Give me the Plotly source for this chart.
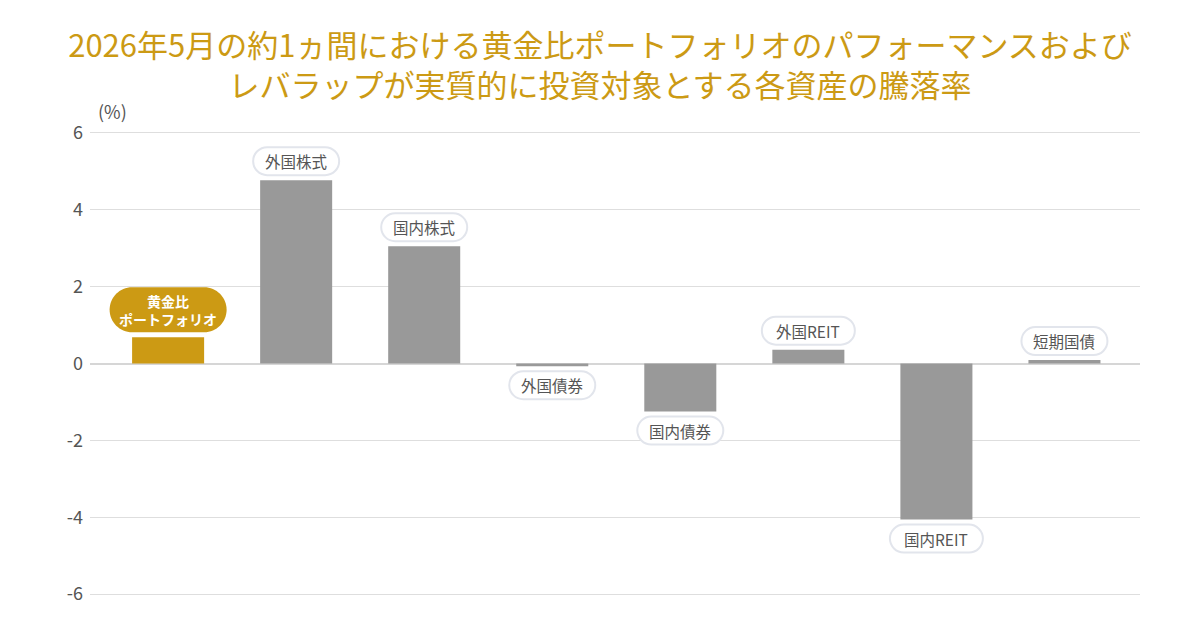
import plotly.graph_objects as go

categories = ["黄金比<br>ポートフォリオ", "外国株式", "国内株式", "外国債券", "国内債券", "外国REIT", "国内REIT", "短期国債"]
values = [0.68, 4.77, 3.05, -0.07, -1.25, 0.36, -4.06, 0.09]
highlight = [True, False, False, False, False, False, False, False]
y_ticks = [-6, -4, -2, 0, 2, 4, 6]

GOLD = "#cc9a14"
GRAY_BAR = "#999999"
TEXT = "#555555"
FONT = "Noto Sans CJK JP"

xs = list(range(len(categories)))
colors = [GOLD if h else GRAY_BAR for h in highlight]

fig = go.Figure()
fig.add_trace(go.Bar(x=xs, y=values, marker=dict(color=colors, line=dict(width=0)),
                     width=0.5625, hoverinfo="skip"))

K = 0.5523


def pill_path(x0, x1, y0, y1):
    r = (y1 - y0) / 2
    kr = K * r
    f = lambda v: f"{v:.2f}"
    return (f"M{f(x0+r)},{f(y0)} L{f(x1-r)},{f(y0)} "
            f"C{f(x1-r+kr)},{f(y0)} {f(x1)},{f(y0+r-kr)} {f(x1)},{f(y0+r)} "
            f"L{f(x1)},{f(y1-r)} "
            f"C{f(x1)},{f(y1-r+kr)} {f(x1-r+kr)},{f(y1)} {f(x1-r)},{f(y1)} "
            f"L{f(x0+r)},{f(y1)} "
            f"C{f(x0+r-kr)},{f(y1)} {f(x0)},{f(y1-r+kr)} {f(x0)},{f(y1-r)} "
            f"L{f(x0)},{f(y0+r)} "
            f"C{f(x0)},{f(y0+r-kr)} {f(x0+r-kr)},{f(y0)} {f(x0+r)},{f(y0)} Z")


def text_width(s):
    w = 0
    for ch in s:
        w += 15.5 if ord(ch) > 255 else 9.5
    return w

shapes = []
annotations = []
gap = 5
for i, (cat, v, h) in enumerate(zip(categories, values, highlight)):
    sign = 1 if v >= 0 else -1
    if h:
        w, ht = 117, 45
        fill, border, bw = GOLD, GOLD, 0
        font = dict(family=FONT, size=14, color="white", weight="bold")
    else:
        w = text_width(cat) + 24
        ht = 28
        fill, border, bw = "white", "#e2e5ec", 2
        font = dict(family=FONT, size=15.5, color=TEXT)
    if sign > 0:
        y0, y1 = gap, gap + ht
    else:
        y0, y1 = -gap - ht, -gap
    shapes.append(dict(type="path", xref="x", yref="y", xsizemode="pixel", ysizemode="pixel",
                       xanchor=i, yanchor=v, path=pill_path(-w / 2, w / 2, y0, y1),
                       fillcolor=fill, line=dict(color=border, width=bw), layer="above"))
    annotations.append(dict(x=i, y=v, xref="x", yref="y", text=cat, showarrow=False,
                            yanchor="middle", xanchor="center", yshift=(y0 + y1) / 2,
                            font=font, align="center"))

annotations.append(dict(x=0.0, y=1.0, xref="paper", yref="paper", text="(%)", showarrow=False,
                        xanchor="left", yanchor="bottom", xshift=6, yshift=3,
                        font=dict(family=FONT, size=18, color=TEXT)))

fig.update_layout(
    width=1200, height=640,
    margin=dict(l=90, r=60, t=129, b=42, pad=0),
    paper_bgcolor="white", plot_bgcolor="white",
    showlegend=False,
    title=dict(text="2026年5月の約1ヵ間における黄金比ポートフォリオのパフォーマンスおよび<br>レバラップが実質的に投資対象とする各資産の騰落率",
               x=0.5, xanchor="center", xref="container", y=1 - 57 / 640, yanchor="middle", yref="container",
               font=dict(family=FONT, size=31, color=GOLD)),
    xaxis=dict(range=[-0.61, 7.59], showticklabels=False, showgrid=False, zeroline=False,
               showline=False, ticks="", fixedrange=True),
    yaxis=dict(range=[-6.1, 6.1], tickvals=y_ticks, ticktext=[str(t) for t in y_ticks],
               showgrid=True, gridcolor="#dedede", gridwidth=1,
               zeroline=True, zerolinecolor="#d6d6d6", zerolinewidth=2,
               showline=False, ticks="", ticklabelstandoff=6,
               tickfont=dict(family=FONT, size=18, color=TEXT), fixedrange=True),
    shapes=shapes,
    annotations=annotations,
)

fig.write_html("out.html", config={"displayModeBar": False})
